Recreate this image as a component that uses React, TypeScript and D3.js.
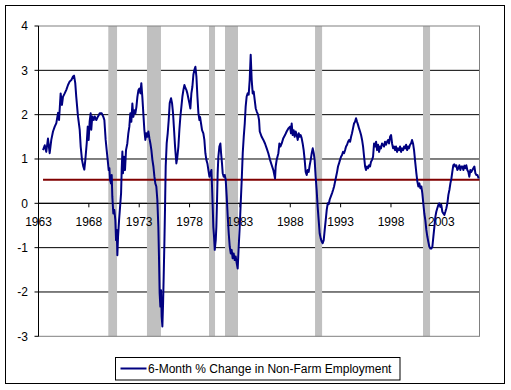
import * as d3 from "d3";

// 6-month % change in non-farm payrolls, [decimal year, value]
const employment: [number, number][] = [
  [1963.45, 1.2], [1963.62, 1.31], [1963.77, 1.16], [1963.94, 1.46], [1964.11, 1.13],
  [1964.27, 1.43], [1964.44, 1.62], [1964.61, 1.73], [1964.77, 1.81], [1964.94, 2.04],
  [1965.04, 1.88], [1965.2, 2.48], [1965.33, 2.22], [1965.43, 2.4], [1965.6, 2.48],
  [1965.76, 2.56], [1965.93, 2.67], [1966.1, 2.75], [1966.26, 2.78], [1966.43, 2.86],
  [1966.53, 2.88], [1966.65, 2.71], [1966.75, 2.4], [1966.92, 1.96], [1967.09, 1.66],
  [1967.19, 1.28], [1967.32, 0.98], [1967.45, 0.83], [1967.55, 0.76], [1967.65, 0.98],
  [1967.79, 1.36], [1967.89, 1.73], [1967.98, 1.43], [1968.08, 1.85], [1968.18, 2.03],
  [1968.24, 1.66], [1968.34, 1.96], [1968.48, 1.88], [1968.58, 1.96], [1968.74, 1.88],
  [1968.91, 1.96], [1969.08, 2.03], [1969.28, 2.03], [1969.44, 1.95], [1969.54, 1.88],
  [1969.67, 1.43], [1969.77, 1.2], [1969.87, 0.98], [1969.97, 0.75], [1970.04, 0.79],
  [1970.1, 0.53], [1970.2, 0.45], [1970.27, 0.64], [1970.33, 0.15], [1970.43, -0.23],
  [1970.53, -0.15], [1970.63, -0.38], [1970.7, -0.83], [1970.77, -0.6], [1970.83, -1.17],
  [1970.9, -0.75], [1971.0, -0.38], [1971.1, -0.08], [1971.2, 0.23], [1971.26, 0.75],
  [1971.33, 1.17], [1971.39, 0.68], [1971.49, 1.05], [1971.59, 0.75], [1971.69, 1.2],
  [1971.82, 1.35], [1971.92, 1.58], [1972.02, 1.73], [1972.12, 2.03], [1972.22, 1.84],
  [1972.32, 2.25], [1972.42, 1.95], [1972.52, 2.1], [1972.62, 2.03], [1972.72, 2.17],
  [1972.82, 2.4], [1972.92, 2.55], [1973.02, 2.59], [1973.12, 2.48], [1973.21, 2.71],
  [1973.31, 2.4], [1973.41, 2.03], [1973.51, 1.66], [1973.61, 1.43], [1973.71, 1.58],
  [1973.81, 1.5], [1973.91, 1.62], [1974.01, 1.47], [1974.11, 1.35], [1974.21, 1.2],
  [1974.31, 0.98], [1974.41, 0.83], [1974.51, 0.6], [1974.6, 0.45], [1974.7, 0.38],
  [1974.8, 0.08], [1974.9, -0.53], [1974.97, -1.28], [1975.03, -2.03], [1975.1, -2.33],
  [1975.17, -1.96], [1975.23, -2.56], [1975.3, -2.78], [1975.37, -2.26], [1975.43, -1.65],
  [1975.5, -0.9], [1975.56, -0.15], [1975.63, 0.83], [1975.73, 1.36], [1975.83, 1.58],
  [1975.93, 1.88], [1976.03, 2.26], [1976.16, 2.37], [1976.26, 2.26], [1976.36, 2.03],
  [1976.46, 1.66], [1976.56, 1.28], [1976.69, 0.9], [1976.79, 1.05], [1976.89, 1.28],
  [1976.99, 1.66], [1977.09, 1.96], [1977.19, 2.18], [1977.29, 2.41], [1977.39, 2.56],
  [1977.49, 2.67], [1977.59, 2.6], [1977.68, 2.56], [1977.78, 2.48], [1977.88, 2.37],
  [1977.98, 2.26], [1978.08, 2.14], [1978.18, 2.48], [1978.28, 2.63], [1978.38, 2.9],
  [1978.48, 3.01], [1978.58, 3.08], [1978.68, 2.86], [1978.78, 2.41], [1978.88, 2.03],
  [1978.98, 1.88], [1979.04, 1.95], [1979.14, 1.8], [1979.24, 1.65], [1979.37, 1.58],
  [1979.47, 1.43], [1979.57, 1.13], [1979.67, 0.98], [1979.77, 0.9], [1979.87, 0.75],
  [1979.97, 0.6], [1980.07, 0.68], [1980.17, 0.75], [1980.23, 0.38], [1980.3, -0.08],
  [1980.36, -0.53], [1980.43, -0.75], [1980.5, -1.05], [1980.6, -0.83], [1980.66, -0.53],
  [1980.73, 0.08], [1980.79, 0.68], [1980.86, 1.05], [1980.96, 1.28], [1981.06, 1.35],
  [1981.13, 1.13], [1981.22, 0.9], [1981.29, 0.68], [1981.39, 0.6], [1981.49, 0.64],
  [1981.59, 0.53], [1981.69, 0.15], [1981.79, -0.3], [1981.89, -0.68], [1981.99, -0.98],
  [1982.09, -1.13], [1982.18, -1.05], [1982.28, -1.24], [1982.38, -1.13], [1982.48, -1.28],
  [1982.58, -1.2], [1982.68, -1.35], [1982.78, -1.47], [1982.88, -0.98], [1982.98, -0.53],
  [1983.08, 0.0], [1983.18, 0.53], [1983.28, 1.13], [1983.38, 1.5], [1983.48, 1.8],
  [1983.57, 2.18], [1983.67, 2.41], [1983.77, 2.48], [1983.87, 2.45], [1983.97, 2.78],
  [1984.07, 3.35], [1984.17, 2.78], [1984.27, 2.48], [1984.37, 2.52], [1984.47, 2.33],
  [1984.57, 2.14], [1984.67, 2.07], [1984.8, 2.0], [1984.9, 1.88], [1984.97, 1.62],
  [1985.16, 1.5], [1985.33, 1.43], [1985.49, 1.35], [1985.66, 1.24], [1985.82, 1.13],
  [1985.99, 0.98], [1986.16, 0.86], [1986.32, 0.75], [1986.49, 0.56], [1986.55, 0.83],
  [1986.65, 0.98], [1986.82, 1.13], [1986.92, 1.35], [1987.02, 1.28], [1987.15, 1.35],
  [1987.31, 1.47], [1987.48, 1.54], [1987.64, 1.62], [1987.81, 1.69], [1987.98, 1.73],
  [1988.07, 1.58], [1988.14, 1.8], [1988.24, 1.54], [1988.34, 1.65], [1988.44, 1.5],
  [1988.54, 1.62], [1988.64, 1.54], [1988.74, 1.43], [1988.84, 1.58], [1988.94, 1.5],
  [1989.03, 1.54], [1989.13, 1.47], [1989.23, 1.35], [1989.33, 1.2], [1989.43, 0.98],
  [1989.53, 0.71], [1989.63, 0.64], [1989.73, 0.75], [1989.83, 0.71], [1989.93, 0.86],
  [1990.03, 0.98], [1990.13, 1.13], [1990.23, 1.24], [1990.33, 1.13], [1990.42, 0.98],
  [1990.52, 0.6], [1990.62, 0.3], [1990.72, -0.08], [1990.82, -0.38], [1990.92, -0.68],
  [1991.02, -0.79], [1991.12, -0.86], [1991.22, -0.9], [1991.32, -0.83], [1991.42, -0.6],
  [1991.52, -0.38], [1991.62, -0.15], [1991.72, 0.0], [1991.82, -0.02], [1991.91, 0.08],
  [1992.15, 0.23], [1992.25, 0.3], [1992.35, 0.38], [1992.45, 0.49], [1992.55, 0.6],
  [1992.65, 0.71], [1992.74, 0.83], [1992.84, 0.9], [1992.94, 0.98], [1993.04, 1.05],
  [1993.14, 1.09], [1993.24, 1.16], [1993.34, 1.13], [1993.44, 1.2], [1993.54, 1.28],
  [1993.64, 1.32], [1993.74, 1.39], [1993.84, 1.43], [1993.94, 1.39], [1994.04, 1.5],
  [1994.13, 1.58], [1994.23, 1.69], [1994.33, 1.8], [1994.43, 1.84], [1994.53, 1.92],
  [1994.63, 1.84], [1994.73, 1.77], [1994.83, 1.69], [1994.93, 1.62], [1995.03, 1.54],
  [1995.13, 1.43], [1995.23, 1.28], [1995.33, 1.05], [1995.43, 0.83], [1995.52, 0.75],
  [1995.62, 0.83], [1995.72, 0.79], [1995.82, 0.86], [1995.92, 0.83], [1996.02, 0.94],
  [1996.12, 0.98], [1996.22, 1.05], [1996.32, 1.35], [1996.42, 1.28], [1996.52, 1.39],
  [1996.62, 1.2], [1996.72, 1.32], [1996.82, 1.16], [1996.92, 1.28], [1997.01, 1.24],
  [1997.11, 1.35], [1997.21, 1.32], [1997.31, 1.28], [1997.41, 1.39], [1997.51, 1.32],
  [1997.61, 1.39], [1997.71, 1.43], [1997.81, 1.35], [1997.91, 1.5], [1998.01, 1.54],
  [1998.11, 1.35], [1998.21, 1.24], [1998.31, 1.28], [1998.4, 1.2], [1998.5, 1.28],
  [1998.6, 1.16], [1998.7, 1.24], [1998.8, 1.2], [1998.9, 1.28], [1999.0, 1.16],
  [1999.1, 1.24], [1999.2, 1.2], [1999.3, 1.28], [1999.4, 1.24], [1999.5, 1.32],
  [1999.6, 1.2], [1999.7, 1.28], [1999.79, 1.24], [1999.89, 1.32], [1999.99, 1.35],
  [2000.09, 1.43], [2000.19, 1.35], [2000.29, 1.2], [2000.42, 0.9], [2000.52, 0.68],
  [2000.62, 0.49], [2000.72, 0.38], [2000.82, 0.45], [2000.92, 0.34], [2001.02, 0.38],
  [2001.11, 0.23], [2001.21, 0.0], [2001.31, -0.23], [2001.41, -0.38], [2001.51, -0.6],
  [2001.61, -0.75], [2001.71, -0.87], [2001.81, -0.98], [2001.91, -1.02], [2002.01, -1.02],
  [2002.11, -0.98], [2002.21, -0.75], [2002.31, -0.53], [2002.41, -0.3], [2002.5, -0.19],
  [2002.6, -0.11], [2002.7, -0.04], [2002.8, 0.0], [2002.9, -0.08], [2003.0, -0.04],
  [2003.1, -0.19], [2003.2, -0.23], [2003.3, -0.26], [2003.4, -0.19], [2003.5, -0.11],
  [2003.6, 0.0], [2003.7, 0.19], [2003.8, 0.3], [2003.9, 0.45], [2004.0, 0.56],
  [2004.09, 0.71], [2004.19, 0.86], [2004.29, 0.88], [2004.39, 0.83], [2004.49, 0.86],
  [2004.59, 0.75], [2004.69, 0.79], [2004.79, 0.86], [2004.89, 0.75], [2004.99, 0.83],
  [2005.09, 0.83], [2005.19, 0.75], [2005.29, 0.85], [2005.38, 0.79], [2005.48, 0.86],
  [2005.58, 0.75], [2005.68, 0.71], [2005.78, 0.6], [2005.88, 0.75], [2005.98, 0.71],
  [2006.08, 0.75], [2006.18, 0.79], [2006.28, 0.83], [2006.38, 0.68], [2006.48, 0.64],
  [2006.58, 0.64], [2006.71, 0.56],
];

// recession shading, [start, end] in decimal years
const recessions: [number, number][] = [
  [1969.93, 1970.8],
  [1973.77, 1975.16],
  [1979.93, 1980.53],
  [1981.52, 1982.81],
  [1990.46, 1991.16],
  [2001.18, 2001.88],
];

const average = 0.53;
const yearTicks = [1963, 1968, 1973, 1978, 1983, 1988, 1993, 1998, 2003];
const valueTicks = [-3, -2, -1, 0, 1, 2, 3, 4];
const legendLabel = "6-Month % Change in Non-Farm Employment";

const W = 511;
const H = 390;
const left = 38.5;
const right = 479.5;
const top = 26;
const bottom = 336.3;
const font = "'Liberation Sans', Arial, sans-serif";

export default function App() {
  const x = d3.scaleLinear().domain([1963, 2006.79]).range([left, right]);
  const y = d3.scaleLinear().domain([-3, 4]).range([bottom, top]);

  const line = d3
    .line<[number, number]>()
    .x((d) => x(d[0]))
    .y((d) => y(d[1]));

  const startYear = employment[0][0];

  return (
    <svg
      width={W}
      height={H}
      style={{ position: "absolute", left: 0, top: 0, background: "white" }}
      fontFamily={font}
    >
      <rect x={5.5} y={5.5} width={499} height={378} fill="white" stroke="black" />

      {/* gridlines */}
      {valueTicks
        .filter((v) => v > -3 && v < 4)
        .map((v) => (
          <line key={v} x1={left} x2={right} y1={y(v)} y2={y(v)} stroke="black" strokeWidth={1} />
        ))}

      {/* recession bands */}
      {recessions.map(([s, e], i) => (
        <rect key={i} x={x(s)} y={top} width={x(e) - x(s)} height={bottom - top} fill="#c0c0c0" />
      ))}

      <rect x={left} y={top} width={right - left} height={bottom - top} fill="none" stroke="#808080" />

      {/* y axis */}
      <line x1={left} x2={left} y1={top} y2={bottom} stroke="black" />
      {valueTicks.map((v) => (
        <g key={v}>
          <line x1={left - 4} x2={left} y1={y(v)} y2={y(v)} stroke="black" />
          <text x={28} y={y(v) + 4.3} textAnchor="end" fontSize={12} fill="black">
            {v}
          </text>
        </g>
      ))}

      {/* x axis at zero */}
      <line x1={left} x2={right} y1={y(0)} y2={y(0)} stroke="black" />
      {yearTicks.map((t) => (
        <g key={t}>
          <line x1={x(t)} x2={x(t)} y1={y(0)} y2={y(0) + 4} stroke="black" />
          <text x={x(t)} y={y(0) + 22.7} textAnchor="middle" fontSize={12} fill="black">
            {t}
          </text>
        </g>
      ))}

      <line
        x1={x(startYear)}
        x2={right}
        y1={y(average)}
        y2={y(average)}
        stroke="#800000"
        strokeWidth={2}
      />

      <path d={line(employment) ?? ""} fill="none" stroke="#000080" strokeWidth={2} strokeLinejoin="round" />

      {/* legend */}
      <rect x={115.5} y={357.5} width={284.5} height={22.5} fill="white" stroke="black" />
      <line x1={120.5} x2={146.5} y1={368.5} y2={368.5} stroke="#000080" strokeWidth={2} />
      <text x={148} y={372.7} fontSize={12} fill="black">
        {legendLabel}
      </text>
    </svg>
  );
}
